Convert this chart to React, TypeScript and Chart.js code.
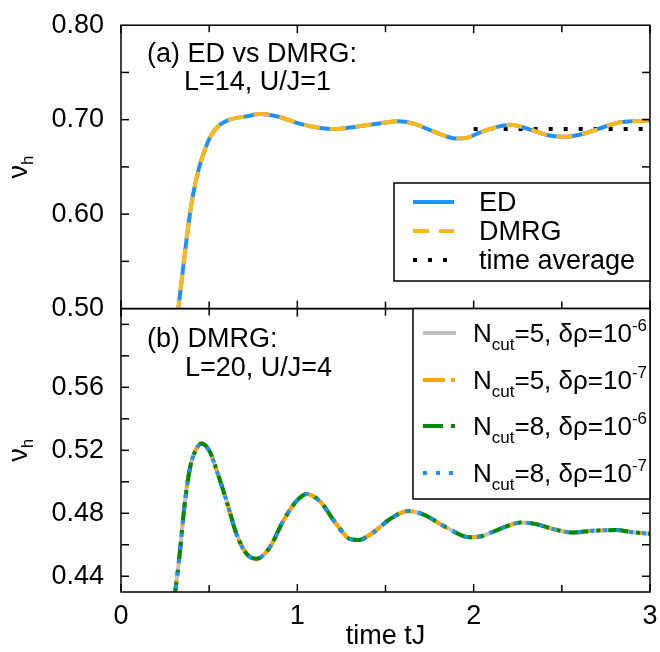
import React, { useEffect, useRef } from "react";
import { Chart, registerables } from "chart.js";

Chart.register(...registerables);

// ---------- data ----------
// panel (a): ED and DMRG coincide
const edTime = [0.32, 0.344, 0.363, 0.391, 0.41, 0.438, 0.466, 0.504, 0.551, 0.618, 0.712, 0.79, 0.9, 1.01, 1.13, 1.2, 1.28, 1.39, 1.5, 1.57, 1.66, 1.77, 1.9, 1.96, 2.03, 2.11, 2.21, 2.32, 2.43, 2.52, 2.64, 2.75, 2.83, 2.92, 3.0];
const edValue = [0.492, 0.53, 0.56, 0.6, 0.622, 0.6456, 0.663, 0.681, 0.693, 0.7, 0.7035, 0.706, 0.7028, 0.6958, 0.6912, 0.69, 0.6912, 0.694, 0.697, 0.6982, 0.6958, 0.6877, 0.68, 0.6807, 0.686, 0.6912, 0.6947, 0.6895, 0.6832, 0.6818, 0.686, 0.693, 0.6972, 0.6985, 0.699];
const dmrgTime = edTime;
const dmrgValue = edValue;
const avgTime = [2.0, 3.0];
const avgValue = [0.69, 0.69];

// panel (b): four DMRG runs coincide
const bTime = [0.3, 0.325, 0.344, 0.363, 0.391, 0.419, 0.457, 0.504, 0.551, 0.599, 0.655, 0.712, 0.769, 0.844, 0.92, 0.995, 1.052, 1.127, 1.222, 1.297, 1.345, 1.43, 1.524, 1.628, 1.713, 1.845, 1.978, 2.053, 2.147, 2.27, 2.355, 2.45, 2.563, 2.676, 2.808, 2.9, 3.0];
const bValue = [0.424, 0.446, 0.4668, 0.4877, 0.5086, 0.519, 0.5243, 0.519, 0.5044, 0.4877, 0.4668, 0.4543, 0.4511, 0.4584, 0.4751, 0.4877, 0.4923, 0.4877, 0.4731, 0.4637, 0.463, 0.4678, 0.4762, 0.4814, 0.4793, 0.471, 0.4647, 0.4657, 0.47, 0.4741, 0.4731, 0.47, 0.4678, 0.4689, 0.4693, 0.468, 0.467];

// ---------- axes ----------
const xTicks = [0, 1, 2, 3];
const xMinorTicks = [0.5, 1.5, 2.5];
const yTopTicks = [0.5, 0.6, 0.7, 0.8];
const yTopMarks = [0.55, 0.6, 0.65, 0.7, 0.75];
const yBotTicks = [0.44, 0.48, 0.52, 0.56];
const yBotMarks = [0.44, 0.46, 0.48, 0.5, 0.52, 0.54, 0.56, 0.58, 0.6];
const xTitle = "time tJ";

const topLegend = ["ED", "DMRG", "time average"];
const botLegendN = ["5", "5", "8", "8"];
const botLegendExp = ["-6", "-7", "-6", "-7"];

const FONT = "'Liberation Sans', Arial, Helvetica, sans-serif";
const FS = 27;
const LFS = 26;
const SFS = 17;

const C_ED = "#1e90ff";
const C_DMRG = "#ffb915";
const C_GRAY = "#c0c0c0";
const C_ORANGE = "#ffa500";
const C_GREEN = "#008a00";
const C_BLUE = "#1e90ff";

const DASH_DMRG = [16, 10];
const DASH_AVG = [4, 11];
const DASH_ORANGE = [22, 6, 4, 6];
const DASH_GREEN = [20, 8, 4, 8];
const DASH_BLUE = [4, 9];

const pts = (t: number[], v: number[]) => t.map((x, i) => ({ x, y: v[i] }));

function line(ctx: CanvasRenderingContext2D, x1: number, y1: number, x2: number, y2: number) {
  ctx.beginPath();
  ctx.moveTo(x1, y1);
  ctx.lineTo(x2, y2);
  ctx.stroke();
}

type Part = { t: string; size: number; dy: number };
function rich(ctx: CanvasRenderingContext2D, x: number, y: number, parts: Part[]) {
  let cx = x;
  ctx.textAlign = "left";
  ctx.textBaseline = "alphabetic";
  for (const p of parts) {
    ctx.font = `${p.size}px ${FONT}`;
    ctx.fillText(p.t, cx, y + p.dy);
    cx += ctx.measureText(p.t).width;
  }
}

const clipPlugin = {
  id: "panelClip",
  beforeDatasetDraw(chart: any, args: any) {
    const ys = args.meta.yScale;
    const ca = chart.chartArea;
    chart.ctx.save();
    chart.ctx.beginPath();
    chart.ctx.rect(ca.left, ys.top, ca.right - ca.left, ys.bottom - ys.top);
    chart.ctx.clip();
  },
  afterDatasetDraw(chart: any) {
    chart.ctx.restore();
  },
};

const decorPlugin = {
  id: "decor",
  afterDraw(chart: any) {
    const ctx: CanvasRenderingContext2D = chart.ctx;
    const { left, right } = chart.chartArea;
    const xs = chart.scales.x;
    const yT = chart.scales.yTop;
    const yB = chart.scales.yBot;
    ctx.save();
    ctx.strokeStyle = "#000";
    ctx.lineWidth = 1.5;
    ctx.setLineDash([]);
    const panels: [any, number[]][] = [
      [yT, yTopMarks],
      [yB, yBotMarks],
    ];
    for (const [ys, marks] of panels) {
      ctx.strokeRect(left, ys.top, right - left, ys.bottom - ys.top);
      for (const v of marks) {
        const py = ys.getPixelForValue(v);
        line(ctx, left, py, left + 8, py);
        line(ctx, right, py, right - 8, py);
      }
      for (const v of xTicks) {
        const px = xs.getPixelForValue(v);
        line(ctx, px, ys.top, px, ys.top + 8);
        line(ctx, px, ys.bottom, px, ys.bottom - 8);
      }
      for (const v of xMinorTicks) {
        const px = xs.getPixelForValue(v);
        line(ctx, px, ys.top, px, ys.top + 7);
        line(ctx, px, ys.bottom, px, ys.bottom - 7);
      }
    }

    ctx.fillStyle = "#000";
    // panel annotations
    rich(ctx, 147, 62, [{ t: "(a) ED vs DMRG:", size: FS, dy: 0 }]);
    rich(ctx, 184, 90, [{ t: "L=14, U/J=1", size: FS, dy: 0 }]);
    rich(ctx, 147, 347, [{ t: "(b) DMRG:", size: FS, dy: 0 }]);
    rich(ctx, 185, 376, [{ t: "L=20, U/J=4", size: FS, dy: 0 }]);

    // x title
    ctx.font = `${FS}px ${FONT}`;
    ctx.textAlign = "center";
    ctx.textBaseline = "middle";
    ctx.fillText(xTitle, (left + right) / 2, 637);

    // y titles
    const yTitle = (cy: number) => {
      ctx.save();
      ctx.translate(27, cy);
      ctx.rotate(-Math.PI / 2);
      ctx.font = `${FS}px ${FONT}`;
      const w1 = ctx.measureText("\u03bd").width;
      ctx.font = `${SFS}px ${FONT}`;
      const w2 = ctx.measureText("h").width;
      rich(ctx, -(w1 + w2) / 2, 0, [
        { t: "\u03bd", size: FS, dy: 0 },
        { t: "h", size: SFS, dy: 6 },
      ]);
      ctx.restore();
    };
    yTitle((yT.top + yT.bottom) / 2);
    yTitle((yB.top + yB.bottom) / 2);

    // legend (a)
    const lx1 = 394, ly1 = 183, ly2 = 281;
    ctx.fillStyle = "#fff";
    ctx.fillRect(lx1, ly1, right - lx1, ly2 - ly1);
    ctx.strokeStyle = "#000";
    ctx.lineWidth = 1.5;
    ctx.strokeRect(lx1, ly1, right - lx1, ly2 - ly1);
    const topRows = [202, 231, 260];
    const topStyles: [string, number[]][] = [
      [C_ED, []],
      [C_DMRG, DASH_DMRG],
      ["#000", DASH_AVG],
    ];
    topRows.forEach((ry, i) => {
      ctx.strokeStyle = topStyles[i][0];
      ctx.lineWidth = 4;
      ctx.lineCap = "butt";
      ctx.setLineDash(topStyles[i][1]);
      line(ctx, 413, ry, 454, ry);
      ctx.setLineDash([]);
      ctx.fillStyle = "#000";
      rich(ctx, 479, ry + 9, [{ t: topLegend[i], size: FS, dy: 0 }]);
    });

    // legend (b)
    const bx1 = 413, by1 = yB.top, by2 = 499;
    ctx.fillStyle = "#fff";
    ctx.fillRect(bx1, by1, right - bx1, by2 - by1);
    ctx.strokeStyle = "#000";
    ctx.lineWidth = 1.5;
    ctx.strokeRect(bx1, by1, right - bx1, by2 - by1);
    const botRows = [333, 380, 426, 473];
    const botStyles: [string, number[]][] = [
      [C_GRAY, []],
      [C_ORANGE, DASH_ORANGE],
      [C_GREEN, DASH_GREEN],
      [C_BLUE, DASH_BLUE],
    ];
    botRows.forEach((ry, i) => {
      ctx.strokeStyle = botStyles[i][0];
      ctx.lineWidth = 4;
      ctx.setLineDash(botStyles[i][1]);
      line(ctx, 423, ry, 456, ry);
      ctx.setLineDash([]);
      ctx.fillStyle = "#000";
      rich(ctx, 473, ry + 9, [
        { t: "N", size: LFS, dy: 0 },
        { t: "cut", size: SFS, dy: 8 },
        { t: `=${botLegendN[i]}, \u03b4\u03c1=10`, size: LFS, dy: 0 },
        { t: botLegendExp[i], size: SFS, dy: -11 },
      ]);
    });
    ctx.restore();
  },
};

export default function App() {
  const ref = useRef<HTMLCanvasElement>(null);
  useEffect(() => {
    if (!ref.current) return;
    const tickFont = { family: FONT, size: FS };
    const chart = new Chart(ref.current, {
      type: "line",
      data: {
        datasets: [
          { label: "DMRG", yAxisID: "yTop", data: pts(dmrgTime, dmrgValue), borderColor: C_DMRG, borderWidth: 4, borderDash: DASH_DMRG, order: 0 },
          { label: "ED", yAxisID: "yTop", data: pts(edTime, edValue), borderColor: C_ED, borderWidth: 4, order: 1 },
          { label: "time average", yAxisID: "yTop", data: pts(avgTime, avgValue), borderColor: "#000", borderWidth: 4, borderDash: DASH_AVG, order: 2, cubicInterpolationMode: "default", tension: 0 },
          { label: "N8 1e-7", yAxisID: "yBot", data: pts(bTime, bValue), borderColor: C_BLUE, borderWidth: 4, borderDash: DASH_BLUE, order: 3 },
          { label: "N8 1e-6", yAxisID: "yBot", data: pts(bTime, bValue), borderColor: C_GREEN, borderWidth: 4, borderDash: DASH_GREEN, order: 4 },
          { label: "N5 1e-7", yAxisID: "yBot", data: pts(bTime, bValue), borderColor: C_ORANGE, borderWidth: 4, borderDash: DASH_ORANGE, order: 5 },
          { label: "N5 1e-6", yAxisID: "yBot", data: pts(bTime, bValue), borderColor: C_GRAY, borderWidth: 4, order: 6 },
        ] as any,
      },
      options: {
        animation: false,
        responsive: false,
        maintainAspectRatio: false,
        devicePixelRatio: 1,
        layout: { padding: { top: 20, right: 10, left: 0, bottom: 0 } },
        elements: {
          point: { radius: 0 },
          line: { cubicInterpolationMode: "monotone", fill: false, borderCapStyle: "butt" },
        },
        plugins: { legend: { display: false }, tooltip: { enabled: false } },
        scales: {
          x: {
            type: "linear",
            position: "bottom",
            min: 0,
            max: 3,
            grid: { display: false },
            border: { display: false },
            afterBuildTicks: (s: any) => {
              s.ticks = xTicks.map((value) => ({ value }));
            },
            afterFit: (s: any) => {
              s.height = 60;
            },
            ticks: { font: tickFont, color: "#000", padding: 0, maxRotation: 0, callback: (v: any) => String(v) },
          },
          yBot: {
            type: "linear",
            position: "left",
            stack: "panels",
            stackWeight: 1,
            min: 0.43,
            max: 0.61,
            grid: { display: false },
            border: { display: false },
            afterBuildTicks: (s: any) => {
              s.ticks = yBotTicks.map((value) => ({ value }));
            },
            afterFit: (s: any) => {
              s.width = 121;
            },
            ticks: { font: tickFont, color: "#000", padding: 9, callback: (v: any) => Number(v).toFixed(2) },
          },
          yTop: {
            type: "linear",
            position: "left",
            stack: "panels",
            stackWeight: 1,
            min: 0.5,
            max: 0.8,
            grid: { display: false },
            border: { display: false },
            afterBuildTicks: (s: any) => {
              s.ticks = yTopTicks.map((value) => ({ value }));
            },
            afterFit: (s: any) => {
              s.width = 121;
            },
            ticks: { font: tickFont, color: "#000", padding: 9, callback: (v: any) => Number(v).toFixed(2) },
          },
        },
      } as any,
      plugins: [clipPlugin, decorPlugin],
    });
    return () => chart.destroy();
  }, []);
  return (
    <div style={{ position: "absolute", left: 0, top: 0, width: 660, height: 652, background: "#fff" }}>
      <canvas ref={ref} width={660} height={652} style={{ display: "block", width: 660, height: 652 }} />
    </div>
  );
}
